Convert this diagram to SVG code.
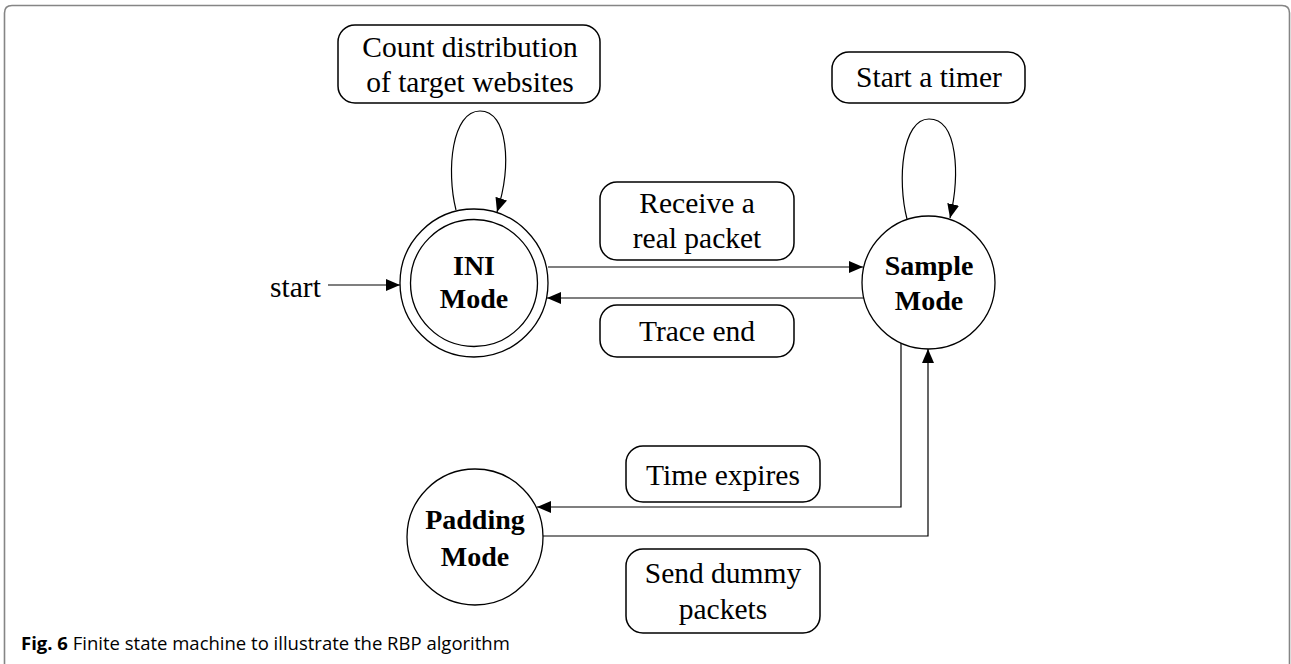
<svg xmlns="http://www.w3.org/2000/svg" width="1291" height="664" viewBox="0 0 1291 664">
<style>
.frame{fill:none;stroke:#858585;stroke-width:1.6}
.st{fill:#fff;stroke:#000;stroke-width:1.3}
.box{fill:#fff;stroke:#000;stroke-width:1.5}
.lbl{font-family:"Liberation Serif","Times New Roman",serif;font-size:29.5px;fill:#000;text-anchor:middle}
.nm{font-family:"Liberation Serif","Times New Roman",serif;font-size:28px;font-weight:bold;fill:#000;text-anchor:middle}
.edge{fill:none;stroke:#000;stroke-width:1.2}
.cap{font-family:"Open Sans","Noto Sans",sans-serif;font-size:18.5px;fill:#000}
</style>
<defs>
<marker id="ah" markerWidth="14" markerHeight="12" refX="14" refY="6" orient="auto" markerUnits="userSpaceOnUse">
<path d="M0,0 L14,6 L0,12 z" fill="#000"/>
</marker>
</defs>
<rect width="1291" height="664" fill="#fff"/>
<path class="frame" d="M4.5,664 L4.5,13 Q4.5,5.5 12,5.5 L1282,5.5 Q1289.5,5.5 1289.5,13 L1289.5,664"/>

<g id="connectors">
<path class="edge" d="M328,285 L400,285" marker-end="url(#ah)"/>
<path class="edge" d="M456,210 C446,170 452,111 480,111 C508,111 512,165 497,212" marker-end="url(#ah)"/>
<path class="edge" d="M548,267 L863,267" marker-end="url(#ah)"/>
<path class="edge" d="M864,298 L547,298" marker-end="url(#ah)"/>
<path class="edge" d="M907,219 C897,180 902,119 929,119 C958,119 960,175 950,218" marker-end="url(#ah)"/>
<path class="edge" d="M901,343 L901,507 L537,507" marker-end="url(#ah)"/>
<path class="edge" d="M541,536 L928,536 L928,349" marker-end="url(#ah)"/>
</g>

<g id="start-label"><text class="lbl" x="295.5" y="297">start</text></g>

<g id="ini">
<circle class="st" cx="474" cy="283" r="74"/>
<circle class="st" cx="474" cy="283" r="63.5"/>
<text class="nm" x="474" y="275">INI</text>
<text class="nm" x="474" y="308">Mode</text>
</g>

<g id="sample">
<circle class="st" cx="928.5" cy="282.5" r="66.5"/>
<text class="nm" x="929" y="275">Sample</text>
<text class="nm" x="929" y="310">Mode</text>
</g>

<g id="padding">
<circle class="st" cx="475" cy="537" r="68"/>
<text class="nm" x="475" y="529">Padding</text>
<text class="nm" x="475" y="566">Mode</text>
</g>

<g id="lbl-count">
<rect class="box" x="338" y="25" width="262" height="78" rx="17"/>
<text class="lbl" x="470" y="57">Count distribution</text>
<text class="lbl" x="470" y="92">of target websites</text>
</g>

<g id="lbl-timer">
<rect class="box" x="832" y="52" width="193" height="51" rx="17"/>
<text class="lbl" x="929" y="87">Start a timer</text>
</g>

<g id="lbl-receive">
<rect class="box" x="600" y="182" width="194" height="78" rx="17"/>
<text class="lbl" x="697" y="213">Receive a</text>
<text class="lbl" x="697" y="248">real packet</text>
</g>

<g id="lbl-trace">
<rect class="box" x="600" y="305" width="194" height="52" rx="17"/>
<text class="lbl" x="697" y="341">Trace end</text>
</g>

<g id="lbl-time">
<rect class="box" x="626" y="446" width="194" height="56" rx="17"/>
<text class="lbl" x="723" y="485">Time expires</text>
</g>

<g id="lbl-send">
<rect class="box" x="626" y="549" width="194" height="84" rx="17"/>
<text class="lbl" x="723" y="583">Send dummy</text>
<text class="lbl" x="723" y="619">packets</text>
</g>

<text class="cap" x="21" y="650"><tspan font-weight="bold">Fig. 6</tspan> Finite state machine to illustrate the RBP algorithm</text>
</svg>
